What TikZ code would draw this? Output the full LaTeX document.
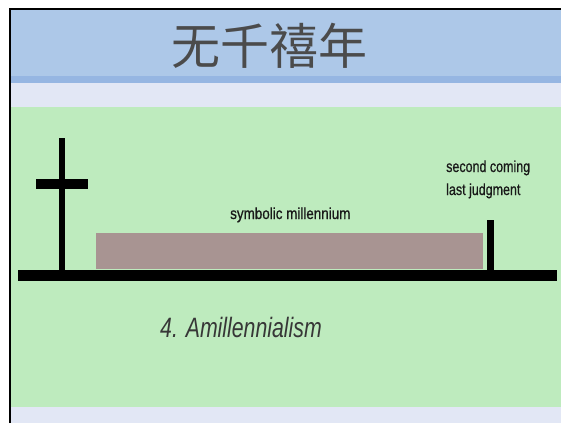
\documentclass[tikz,border=0pt]{standalone}
\usepackage{fontspec}
\setmainfont{Liberation Sans}
\newfontfamily\cjk{Noto Sans CJK SC}
\newfontfamily\condA[FakeStretch=0.78,FakeBold=0.7]{Liberation Sans}
\newfontfamily\condB[FakeStretch=0.84,FakeBold=0.7]{Liberation Sans}
\newfontfamily\condC[FakeStretch=0.76]{Liberation Sans}
\definecolor{bandblue}{RGB}{173,200,232}
\definecolor{stripeblue}{RGB}{150,182,226}
\definecolor{lav}{RGB}{226,231,245}
\definecolor{grn}{RGB}{190,235,190}
\definecolor{mauve}{RGB}{168,148,146}
\definecolor{ink}{RGB}{55,55,55}
\definecolor{titleink}{RGB}{75,75,75}
\tikzset{
  bar/.style={fill=black,draw=none},
  lbl/.style={inner sep=0pt,anchor=base west,text=black!90}
}
\begin{document}
\begin{tikzpicture}[x=1pt,y=-1pt]
\useasboundingbox (0,0) rectangle (561,423);
\fill[white] (0,0) rectangle (561,423);
% bands
\fill[bandblue] (10,9) rectangle (561,78);
\fill[stripeblue] (10,76) rectangle (561,83);
\fill[lav] (10,83) rectangle (561,107);
\fill[grn] (10,107) rectangle (561,407);
\fill[lav] (10,407) rectangle (561,423);
% frame
\draw[black,line width=2pt] (10,423) -- (10,9) -- (561,9);
% title
\node[text=titleink,inner sep=0pt] (title) at (269,46) {\cjk\fontsize{49}{49}\selectfont 无千禧年};
% millennium block
\fill[mauve] (96,233) rectangle (483,269);
% ground, cross, post
\fill[bar] (18,270) rectangle (557,281);
\fill[bar] (59,138) rectangle (65,271);
\fill[bar] (36,179) rectangle (88,189);
\fill[bar] (487,220) rectangle (494,271);
% labels
\node[lbl] (second) at (446,172) {\condA\fontsize{16}{16}\selectfont second coming};
\node[lbl] (last) at (446,195) {\condA\fontsize{16}{16}\selectfont last judgment};
\node[lbl] (sym) at (230,219) {\condB\fontsize{16}{16}\selectfont symbolic millennium};
\node[lbl,text=ink] (ami) at (160,337) {\condC\fontsize{28}{28}\selectfont\itshape 4. Amillennialism};
\end{tikzpicture}
\end{document}
